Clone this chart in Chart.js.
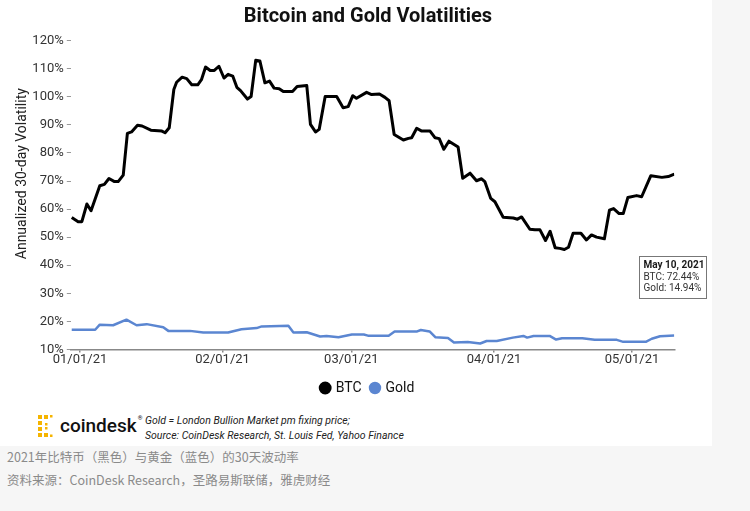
<!DOCTYPE html>
<html><head><meta charset="utf-8">
<script src="https://cdn.jsdelivr.net/npm/chart.js@4.4.0/dist/chart.umd.min.js"></script>
<style>
html,body{margin:0;padding:0;background:#f6f6f6;}
#wrap{position:relative;width:750px;height:511px;overflow:hidden;background:#f6f6f6;}
#panel{position:absolute;left:0;top:0;width:712px;height:446px;background:#fff;}
#box{position:absolute;left:0;top:0;width:750px;height:405px;}
.t{position:absolute;white-space:nowrap;line-height:1;}
#logo{position:absolute;left:38px;top:415px;}
#brand{left:60px;top:416px;font-family:'Roboto',sans-serif;font-size:19px;font-weight:500;color:#111;}
#brand sup{font-size:6px;vertical-align:top;position:relative;top:-1px;margin-left:1px;}
.note{left:145px;font-family:'Liberation Sans Narrow','Roboto',sans-serif;font-style:italic;font-size:10.5px;color:#222;}
.cn{left:7px;font-family:'Noto Sans CJK SC',sans-serif;font-size:12.5px;color:#8a8a8a;}
</style></head>
<body>
<div id="wrap">
<div id="panel"></div>
<div id="box"><canvas id="cv" width="750" height="405" style="width:750px;height:405px;"></canvas></div>
<svg id="logo" width="18" height="22" viewBox="0 0 18 22">
<g fill="#f5b400">
<rect x="0" y="0" width="4" height="4"/><rect x="0" y="6" width="4" height="4"/><rect x="0" y="12" width="4" height="4"/><rect x="0" y="18" width="4" height="4"/>
<rect x="6" y="0" width="4" height="4"/><rect x="6" y="18" width="4" height="4"/>
<rect x="12" y="0" width="2.5" height="2.5"/><rect x="12" y="19.5" width="2.5" height="2.5"/>
<rect x="7" y="8" width="2.5" height="2.5"/><rect x="7" y="12" width="2.5" height="2.5"/>
</g></svg>
<div class="t" id="brand">coindesk<sup>®</sup></div>
<div class="t note" style="top:416px;">Gold = London Bullion Market pm fixing price;</div>
<div class="t note" style="top:431px;">Source: CoinDesk Research, St. Louis Fed, Yahoo Finance</div>
<div class="t cn" style="top:451px;">2021年比特币（黑色）与黄金（蓝色）的30天波动率</div>
<div class="t cn" style="top:474px;">资料来源：CoinDesk Research，圣路易斯联储，雅虎财经</div>
</div>
<script>
const tickDays = [0, 31, 59, 90, 120];
const tickLabels = ['01/01/21', '02/01/21', '03/01/21', '04/01/21', '05/01/21'];
const lastDateLabel = 'May 10, 2021';

const btcDays = [-1.8,-0.4,0.4,1.5,2.4,4.3,5.3,6.3,7.5,8.3,9.4,10.3,11.2,12.5,13.5,15.4,17.8,18.5,19.4,20.4,21,22.2,23.2,24.3,25.6,26.4,27.3,28.3,29.2,30.2,31.3,32.2,33.2,34.1,34.9,36.4,37.2,38.2,39.1,40.2,41.2,42.2,43.3,44.2,46.2,47.2,49.3,50.1,51.2,52,53.3,55.8,57.2,58.3,59.3,60.1,62.3,63.4,65.1,66.3,67.2,68.3,70.3,71.4,72.1,73.2,74.3,76.1,77.2,78.1,79.1,80.2,82.2,83.2,84.8,86.2,87.3,88,89.3,90.2,92,94.2,95.1,96,97.8,98.9,100,101.2,102.2,103.3,104.3,105.3,106.2,107.2,108.9,110.1,111.2,112.3,114,115.1,116,117.2,118.1,119.1,121,122.1,124.1,126.5,127.9,129.2];
const btcVals = [57.0,55.5,55.5,61.8,59.4,68.3,68.8,70.9,69.8,69.8,72.1,87.0,87.5,89.9,89.6,88.1,87.8,87.2,89.0,102.6,105.2,107.0,106.5,104.3,104.3,106.1,110.6,109.4,109.4,110.9,106.7,108.0,107.4,103.4,102.2,99.2,100.1,113.0,112.8,105.0,105.6,103.1,102.9,101.9,101.9,103.7,104.0,90.2,87.5,88.4,100.1,100.1,96.1,96.5,100.4,99.5,101.6,100.8,101.0,99.8,98.6,86.6,84.6,85.2,85.4,88.8,87.8,87.8,85.4,85.1,81.3,84.2,82.1,71.0,72.8,70.1,70.8,69.8,63.8,62.6,57.1,56.8,56.4,57.2,52.8,52.6,52.6,48.8,52.1,46.2,46.0,45.6,46.4,51.4,51.4,49.0,50.8,50.0,49.4,59.6,60.2,58.4,58.4,64.1,64.8,64.4,71.9,71.3,71.6,72.44];

const goldDays = [-1.8,3.3,4.3,7.2,10.1,12.3,14.5,18.1,19.2,23.9,26.8,32.2,35.1,38.4,39.5,45.3,46.4,49.3,52.2,53.6,56.2,59.1,61.7,62.6,67.1,68.4,73.3,74.1,76,77.3,80,81.3,84.3,87,88.4,90.6,94.1,96.4,97.2,98.6,102.1,103.5,104.8,109.2,111.9,116.7,118.1,123,124.3,126.1,129.2];
const goldVals = [17.0,17.0,18.8,18.6,20.6,18.6,19.0,17.9,16.6,16.6,16.0,16.0,17.2,17.6,18.2,18.4,16.0,16.1,14.6,14.8,14.3,15.3,15.3,14.9,14.9,16.4,16.4,16.9,16.4,14.3,14.1,12.5,12.6,12.1,13.0,13.0,14.2,14.8,14.2,14.8,14.8,13.5,14.0,14.0,13.4,13.4,12.7,12.7,13.8,14.7,14.94];

const FONT = 'Roboto';

const extras = {
  id: 'extras',
  afterDraw(chart) {
    const {ctx, chartArea, scales} = chart;
    const x = scales.x, y = scales.y;
    ctx.save();
    ctx.save();
    ctx.translate(22, chartArea.top + 133);
    ctx.rotate(-Math.PI / 2);
    ctx.font = '14px ' + FONT;
    ctx.fillStyle = '#222';
    ctx.textAlign = 'center';
    ctx.textBaseline = 'middle';
    ctx.fillText('Annualized 30-day Volatility', 0, 0);
    ctx.restore();
    const lastDay = btcDays[btcDays.length - 1];
    const bx = Math.round(x.getPixelForValue(lastDay)) - 35 + 0.5;
    const by = Math.round(y.getPixelForValue(43.2)) + 0.5;
    const bw = 67, bh = 42;
    ctx.fillStyle = '#fff';
    ctx.fillRect(bx, by, bw, bh);
    ctx.strokeStyle = '#777';
    ctx.lineWidth = 1;
    ctx.strokeRect(bx, by, bw, bh);
    ctx.textAlign = 'left';
    ctx.textBaseline = 'middle';
    ctx.fillStyle = '#1a1a1a';
    ctx.font = 'bold 10px ' + FONT;
    ctx.fillText(lastDateLabel, bx + 4, by + 9);
    ctx.font = '10px ' + FONT;
    ctx.fillStyle = '#333';
    ctx.fillText('BTC: ' + btcVals[btcVals.length - 1].toFixed(2) + '%', bx + 4, by + 21);
    ctx.fillText('Gold: ' + goldVals[goldVals.length - 1].toFixed(2) + '%', bx + 4, by + 32);
    ctx.restore();
  }
};

new Chart(document.getElementById('cv'), {
  type: 'line',
  data: {
    datasets: [
      {
        label: 'BTC',
        data: btcDays.map((d, i) => ({x: d, y: btcVals[i]})),
        borderColor: '#000',
        backgroundColor: '#000',
        borderWidth: 3,
        pointRadius: 0,
        tension: 0,
        borderJoinStyle: 'round',
        yAxisID: 'y'
      },
      {
        label: 'Gold',
        data: goldDays.map((d, i) => ({x: d, y: goldVals[i]})),
        borderColor: '#5b86d1',
        backgroundColor: '#5b86d1',
        borderWidth: 2.5,
        pointRadius: 0,
        tension: 0,
        borderJoinStyle: 'round',
        yAxisID: 'y'
      }
    ]
  },
  options: {
    responsive: false,
    maintainAspectRatio: false,
    animation: false,
    devicePixelRatio: 1,
    layout: {padding: {left: 0, right: 14, top: 0, bottom: 0}},
    plugins: {
      tooltip: {enabled: false},
      title: {
        display: true,
        text: 'Bitcoin and Gold Volatilities',
        color: '#111',
        font: {family: FONT, size: 20, weight: 'bold'},
        padding: {top: 5, bottom: 11.7}
      },
      legend: {
        display: true,
        position: 'bottom',
        labels: {
          usePointStyle: true,
          pointStyle: 'circle',
          boxWidth: 7,
          boxHeight: 7,
          padding: 10,
          color: '#111',
          font: {family: FONT, size: 14}
        }
      }
    },
    scales: {
      x: {
        type: 'linear',
        min: -2,
        max: 129.2,
        afterBuildTicks: s => { s.ticks = tickDays.map(v => ({value: v})); },
        afterFit: s => { s.height = 21.6; },
        ticks: {
          autoSkip: false,
          maxRotation: 0,
          padding: 0,
          color: '#333',
          font: {family: FONT, size: 13},
          callback: v => tickLabels[tickDays.indexOf(v)]
        },
        grid: {drawOnChartArea: false, drawTicks: true, tickLength: 3, color: '#888', lineWidth: 1.5},
        border: {display: true, color: '#888', width: 1.5}
      },
      y: {
        type: 'linear',
        position: 'left',
        min: 10,
        max: 120,
        afterFit: s => { s.width = 70.8; },
        ticks: {
          stepSize: 10,
          padding: 3,
          color: '#333',
          font: {family: FONT, size: 13},
          callback: v => v + '%'
        },
        grid: {drawOnChartArea: false, drawTicks: true, tickLength: 4, color: '#999', lineWidth: 1},
        border: {display: false}
      },
      yR: {
        type: 'linear',
        position: 'right',
        min: 10,
        max: 120,
        display: true,
        afterFit: s => { s.width = 61.7; },
        ticks: {display: false},
        grid: {display: false},
        border: {display: false}
      }
    }
  },
  plugins: [extras]
});
</script>
</body></html>
